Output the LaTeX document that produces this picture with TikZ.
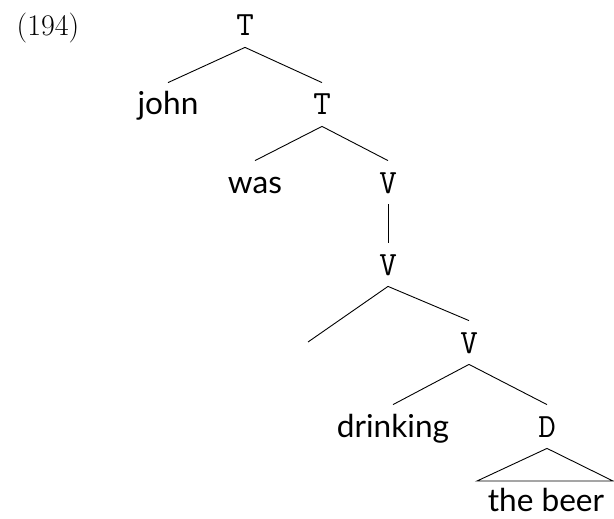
\documentclass[tikz,border=0pt]{standalone}
\usepackage{fontspec}
\newfontfamily\wordfont{Lato}
\usetikzlibrary{positioning}

\begin{document}
\begin{tikzpicture}[
  x=0.5pt,y=-0.5pt,
  every node/.style={anchor=base,inner xsep=0pt,inner ysep=2pt,text height=14pt,text depth=3.5pt},
  cat/.style={font=\fontsize{17}{19}\selectfont\ttfamily},
  word/.style={font=\fontsize{15.8}{18}\selectfont\wordfont},
  branch/.style={line width=0.45pt,black}
]
  \useasboundingbox (0,0) rectangle (614,518);

  % Example number to the left of the root.
  \node[font=\fontsize{15}{17}\selectfont] (exnum) at (48,36) {(194)};

  % Labels of the tree, placed level by level on their baselines.
  \node[cat] (troot) at (245,36) {T};
  \node[word] (john) at (168,115) {john};
  \node[cat] (tbar) at (322,115) {T};
  \node[word] (was) at (255,193) {was};
  \node[cat] (vtop) at (388,193) {V};
  \node[cat] (vmid) at (388,275) {V};
  \node[cat] (vlow) at (469,353) {V};
  \node[word] (drinking) at (393,437) {drinking};
  \node[cat] (dnode) at (547,437) {D};
  \node[word] (beer) at (546,511) {the beer};

  % Empty specifier slot and the corners of the roof over the DP.
  \coordinate (spec) at (308,342);
  \coordinate (roofL) at (477,481);
  \coordinate (roofR) at (613,481);

  % Branches.
  \draw[branch] (troot.south) -- (john.north);
  \draw[branch] (troot.south) -- (tbar.north);
  \draw[branch] (tbar.south) -- (was.north);
  \draw[branch] (tbar.south) -- (vtop.north);
  \draw[branch] (vtop.south) -- (vmid.north);
  \draw[branch] (vmid.south) -- (spec);
  \draw[branch] (vmid.south) -- (vlow.north);
  \draw[branch] (vlow.south) -- (drinking.north);
  \draw[branch] (vlow.south) -- (dnode.north);
  \draw[branch] (dnode.south) -- (roofL) -- (roofR) -- cycle;
\end{tikzpicture}
\end{document}
